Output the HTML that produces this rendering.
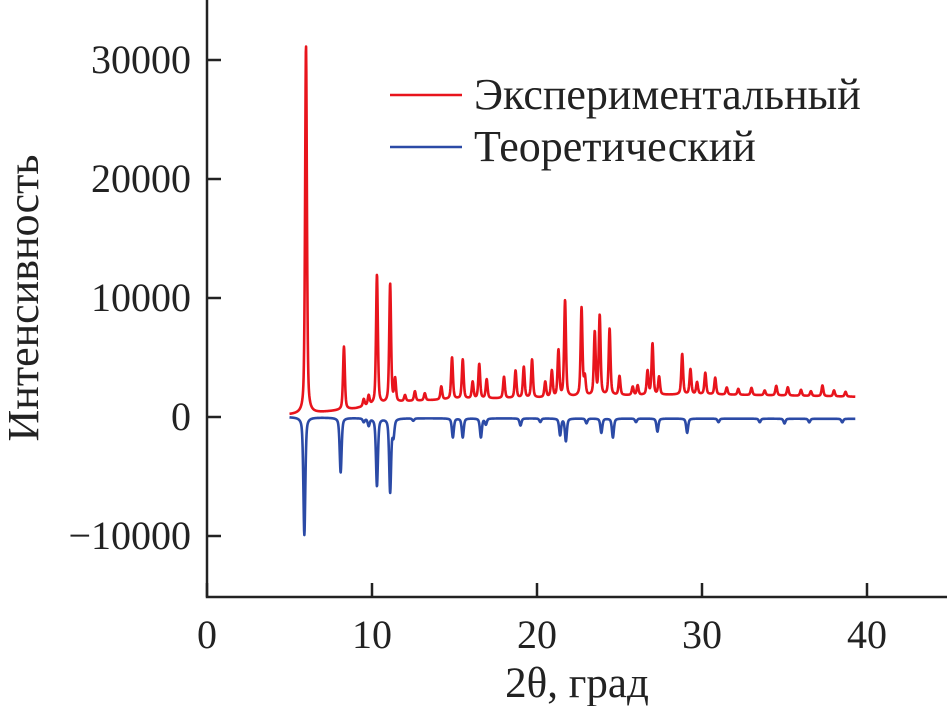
<!DOCTYPE html>
<html><head><meta charset="utf-8"><style>
html,body{margin:0;padding:0;background:#fff;}
svg{display:block;font-family:"Liberation Serif",serif;}
</style></head><body>
<svg id="chart" width="947" height="706" viewBox="0 0 947 706">
<g id="axes"></g>
<g id="plot"></g>
<g>
 <line x1="390" y1="95" x2="462" y2="95" stroke="#e8141c" stroke-width="2.5"/>
 <text x="474" y="109" font-size="44" fill="#222">Экспериментальный</text>
 <line x1="390" y1="147" x2="462" y2="147" stroke="#2b4aa6" stroke-width="2.5"/>
 <text x="474" y="161" font-size="44" fill="#222">Теоретический</text>
</g>
<text x="38" y="298" font-size="44" fill="#222" text-anchor="middle" transform="rotate(-90 38 298)">Интенсивность</text>
<text x="577" y="697" font-size="43" fill="#222" text-anchor="middle">2θ, град</text>
</svg>
<script>
const xTicks=[0,10,20,30,40];
const yTicks=[-10000,0,10000,20000,30000];
const yTickLabels=["\u221210000","0","10000","20000","30000"];
// experimental peaks: position, height above baseline
const expPos=[6.0,8.3,9.5,9.8,10.3,11.1,11.4,12.0,12.6,13.2,14.2,14.85,15.5,16.1,16.5,16.95,18.0,18.7,19.2,19.7,20.5,20.9,21.3,21.7,22.7,22.9,23.5,23.8,24.4,25.0,25.8,26.1,26.7,27.0,27.4,28.8,29.3,29.7,30.2,30.8,31.5,32.2,33.0,33.8,34.5,35.2,36.0,36.6,37.3,38.0,38.7];
const expHeight=[31000,5300,600,800,10900,10000,1900,500,800,600,1100,3500,3300,1400,2900,1600,1800,2300,2600,3200,1300,2200,3900,8100,7400,1500,5300,6700,5600,1600,700,800,2000,4300,1500,3400,2100,1000,1800,1400,600,500,600,400,800,700,500,400,900,500,400];
const expBaseX=[5,5.8,7,9,10,12,15,20,25,30,35,39.3];
const expBaseY=[200,250,400,700,1000,1300,1500,1600,1800,1900,1800,1700];
// theoretical peaks (negative)
const theoPos=[5.9,8.1,9.5,9.8,10.3,11.1,11.3,12.5,14.9,15.5,16.6,16.9,19.0,20.2,21.4,21.75,23.0,23.9,24.6,26.0,27.3,29.1,31.0,33.5,35.0,36.5,38.5];
const theoHeight=[-9900,-4600,-300,-600,-5700,-6200,-1400,-200,-1600,-1600,-1600,-500,-600,-300,-1400,-1900,-400,-1200,-1600,-300,-1100,-1200,-300,-300,-400,-300,-300];
const theoBaseX=[5,10,39.3];
const theoBaseY=[0,-100,-150];

const X=v=>207+v*16.5;
const Y=v=>417-v*0.0119;
const NS='http://www.w3.org/2000/svg';
const axes=document.getElementById('axes'),plot=document.getElementById('plot');
function mk(tag,attrs,parent){const e=document.createElementNS(NS,tag);for(const k in attrs)e.setAttribute(k,attrs[k]);parent.appendChild(e);return e;}
let l=mk('path',{d:'M207,0 V597 H947',fill:'none',stroke:'#222','stroke-width':2.5},axes);


xTicks.forEach(t=>{
 let k=mk('line',{x1:X(t),x2:X(t),y1:597,y2:583,stroke:'#222','stroke-width':2.5},axes);
 
 
 let tx=mk('text',{x:X(t),y:648,'font-size':40,'text-anchor':'middle',fill:'#222'},axes);tx.textContent=t;
 
 
});
yTicks.forEach((t,i)=>{
 let k=mk('line',{x1:207,x2:221,y1:Y(t),y2:Y(t),stroke:'#222','stroke-width':2.5},axes);
 
 
 let tx=mk('text',{x:191,y:Y(t)+13,'font-size':40,'text-anchor':'end',fill:'#222'},axes);tx.textContent=yTickLabels[i];
 
 
});
function interp(xs,ys,x){for(let i=1;i<xs.length;i++){if(x<=xs[i]){const f=(x-xs[i-1])/(xs[i]-xs[i-1]);return ys[i-1]+f*(ys[i]-ys[i-1]);}}return ys[ys.length-1];}
function curve(pos,h,bx,by,w){let d='';for(let x=5;x<=39.3001;x+=0.015){let v=interp(bx,by,x);for(let i=0;i<pos.length;i++){const u=(x-pos[i])/w;v+=h[i]*(0.5/(1+u*u)+0.5*Math.exp(-u*u*0.69));}d+=(d?'L':'M')+X(x).toFixed(2)+','+Y(v).toFixed(2);}return d;}
let r=mk('path',{d:curve(expPos,expHeight,expBaseX,expBaseY,0.065),fill:'none',stroke:'#e8141c','stroke-width':2.6,'stroke-linejoin':'round'},plot);


let b=mk('path',{d:curve(theoPos,theoHeight,theoBaseX,theoBaseY,0.07),fill:'none',stroke:'#2b4aa6','stroke-width':2.6,'stroke-linejoin':'round'},plot);


</script>
</body></html>
